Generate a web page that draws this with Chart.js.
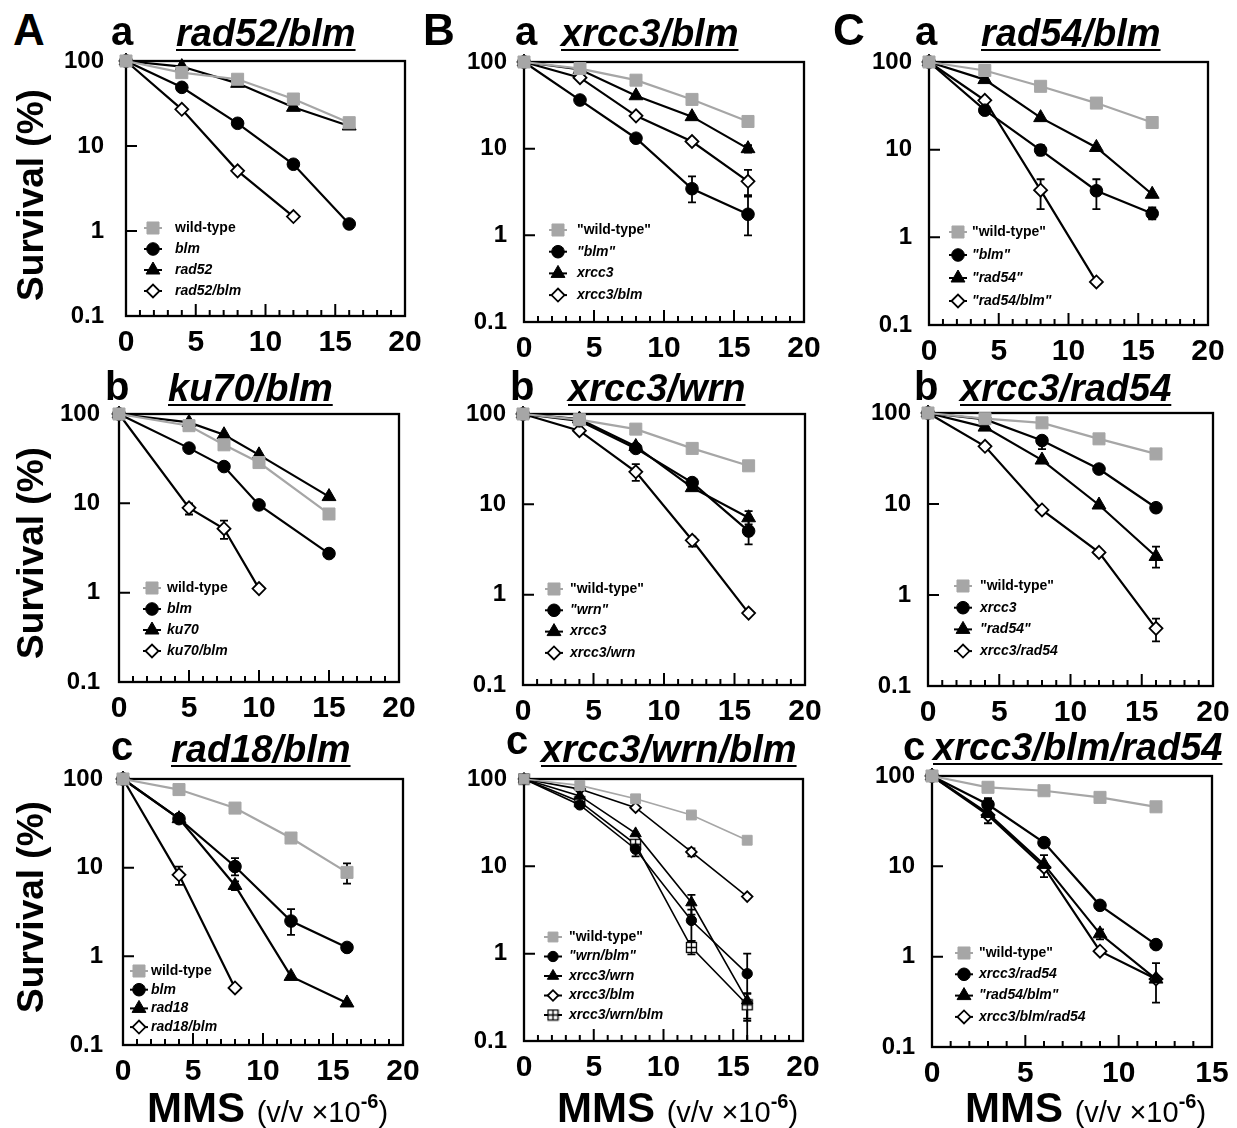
<!DOCTYPE html>
<html>
<head>
<meta charset="utf-8">
<script src="https://cdn.jsdelivr.net/npm/chart.js@4.4.0/dist/chart.umd.min.js"></script>
<style>
  body { margin: 0; background: #fff; }
  #fig { position: relative; width: 1237px; height: 1128px; overflow: hidden; background: #fff;
         font-family: "Liberation Sans", Arial, Helvetica, sans-serif; color: #000; }
  .t { position: absolute; white-space: nowrap; line-height: 1; font-weight: bold; }
  .ttl { font-style: italic; text-decoration: underline; text-decoration-thickness: 2px; text-underline-offset: 3px; }
  canvas { position: absolute; }
</style>
</head>
<body>
<div id="fig"></div>
<script>
const FONT = '"Liberation Sans", Arial, Helvetica, sans-serif';
const BLACK = '#000';
const GRAY = '#a6a6a6';

// axes
const yTicks = [0.1, 1, 10, 100];
const yTickLabels = ['0.1', '1', '10', '100'];
const xTicks20 = [0, 5, 10, 15, 20];
const xTicks15 = [0, 5, 10, 15];

// --- A a : rad52/blm ---
const dosesAa = [0, 4, 8, 12, 16];
const wtAa = [100, 73, 61, 35.7, 18.8];
const blmAa = [100, 49, 18.5, 6.1, 1.21];
const rad52Aa = [100, 86, 54.6, 28.5, 17.2];
const rad52blmAa = [100, 27, 5.1, 1.48];

// --- B a : xrcc3/blm ---
const dosesBa = [0, 4, 8, 12, 16];
const wtBa = [100, 84, 61.7, 37, 20.6];
const blmBa = [100, 36.4, 13.2, 3.45, 1.75];
const blmBaErr = [null, null, null, [2.4, 4.8], [1.0, 2.8]];
const xrcc3Ba = [100, 82, 40.8, 23.4, 10];
const xrcc3BaErr = [null, null, null, null, [9, 11]];
const xrcc3blmBa = [100, 66, 23.9, 12.1, 4.2];
const xrcc3blmBaErr = [null, null, null, null, [2.9, 5.7]];

// --- C a : rad54/blm ---
const dosesCa = [0, 4, 8, 12, 16];
const wtCa = [100, 80, 52.8, 34, 20.4];
const blmCa = [100, 28.2, 9.9, 3.4, 1.87];
const blmCaErr = [null, null, [8.6, 11.3], [2.1, 4.6], [1.6, 2.2]];
const rad54Ca = [100, 63, 23.2, 10.6, 3.1];
const rad54blmCa = [100, 36.6, 3.45, 0.31];
const rad54blmCaErr = [null, null, [2.1, 4.6], null];

// --- A b : ku70/blm ---
const dosesAb = [0, 5, 7.5, 10, 15];
const wtAb = [100, 74, 45.2, 28.6, 7.6];
const blmAb = [100, 41.5, 25.8, 9.6, 2.74];
const ku70Ab = [100, 80.5, 58.6, 34.9, 11.9];
const ku70blmAb = [100, 8.9, 5.2, 1.11];
const ku70blmAbErr = [null, [7.5, 10], [4.0, 6.4], null];

// --- B b : xrcc3/wrn ---
const dosesBb = [0, 4, 8, 12, 16];
const wtBb = [100, 86.5, 68, 41.6, 26.7];
const wtBbErr = [null, null, null, [37, 45], null];
const wrnBb = [100, 84, 41.6, 17.4, 5.06];
const wrnBbErr = [null, null, null, null, [3.6, 6.8]];
const xrcc3Bb = [100, 88, 43.7, 15.3, 7.1];
const xrcc3BbErr = [null, null, null, null, [6, 8.4]];
const xrcc3wrnBb = [100, 65.3, 22.9, 4.0, 0.625];
const xrcc3wrnBbErr = [null, null, [18.2, 27.8], [3.4, 4.4], null];

// --- C b : xrcc3/rad54 ---
const dosesCb = [0, 4, 8, 12, 16];
const wtCb = [100, 86.6, 78, 52, 35.5];
const xrcc3Cb = [100, 85, 49.8, 24.2, 9.1];
const xrcc3CbErr = [null, null, [40, 53], null, null];
const rad54Cb = [100, 70, 30.4, 9.75, 2.65];
const rad54CbErr = [null, null, null, null, [2.0, 3.4]];
const xrcc3rad54Cb = [100, 43.1, 8.6, 2.94, 0.43];
const xrcc3rad54CbErr = [null, null, null, null, [0.31, 0.55]];

// --- A c : rad18/blm ---
const dosesAc = [0, 4, 8, 12, 16];
const wtAc = [100, 76, 47, 21.6, 8.85];
const wtAcErr = [null, null, null, null, [6.6, 11.2]];
const blmAc = [100, 35.7, 10.3, 2.5, 1.26];
const blmAcErr = [null, null, [8.2, 12.8], [1.75, 3.4], null];
const rad18Ac = [100, 35.7, 6.3, 0.594, 0.298];
const rad18AcErr = [null, null, [5.6, 7], null, null];
const rad18blmAc = [100, 8.3, 0.44];
const rad18blmAcErr = [null, [6.4, 10.3], null];

// --- B c : xrcc3/wrn/blm ---
const dosesBc = [0, 4, 8, 12, 16];
const wtBc = [100, 84.5, 59.3, 38.7, 19.9];
const wrnblmBc = [100, 50.5, 15.7, 2.4, 0.59];
const wrnblmBcErr = [null, null, [13, 19.6], [1.4, 3.2], [0.18, 1.0]];
const xrcc3wrnBc = [100, 64, 23.8, 3.85, 0.29];
const xrcc3wrnBcErr = [null, null, null, [2.8, 4.7], [0.17, 0.35]];
const xrcc3blmBc = [100, 76.6, 47, 14.6, 4.5];
const xrcc3blmBcErr = [null, null, null, [13, 16], null];
const tripleBc = [100, 55, 17.9, 1.18, 0.26];
const tripleBcErr = [null, null, null, [0.98, 1.4], [0.1, 0.35]];

// --- C c : xrcc3/blm/rad54 ---
const dosesCc = [0, 3, 6, 9, 12];
const wtCc = [100, 75, 68.7, 58, 45.6];
const xrcc3rad54Cc = [100, 48.4, 18.3, 3.7, 1.36];
const xrcc3rad54CcErr = [null, [43, 57], null, null, null];
const rad54blmCc = [100, 38.5, 10.5, 1.79, 0.565];
const rad54blmCcErr = [null, null, null, [1.55, 2.0], null];
const tripleCc = [100, 36.9, 9.8, 1.15, 0.565];
const tripleCcErr = [null, [30, 45], [7.6, 13.3], null, [0.31, 0.85]];

// panel layout: plot box [left, top, right, bottom], legend [markerX, firstY, rowStep, textX]
const panels = [
  { box: [126, 61, 405, 316], xMax: 20, xTicks: xTicks20, doses: dosesAa, ypad: 22, legend: [153, 228, 21, 175],
    series: [['wild-type', 'wt', wtAa], ['blm', 'circle', blmAa], ['rad52', 'tri', rad52Aa], ['rad52/blm', 'diamond', rad52blmAa]] },
  { box: [524, 62, 804, 322], xMax: 20, xTicks: xTicks20, doses: dosesBa, ypad: 17, legend: [558, 230, 21.7, 577],
    series: [['"wild-type"', 'wt', wtBa], ['"blm"', 'circle', blmBa, blmBaErr], ['xrcc3', 'tri', xrcc3Ba, xrcc3BaErr], ['xrcc3/blm', 'diamond', xrcc3blmBa, xrcc3blmBaErr]] },
  { box: [929, 62, 1208, 325], xMax: 20, xTicks: xTicks20, doses: dosesCa, ypad: 17, legend: [958, 232, 23, 972],
    series: [['"wild-type"', 'wt', wtCa], ['"blm"', 'circle', blmCa, blmCaErr], ['"rad54"', 'tri', rad54Ca], ['"rad54/blm"', 'diamond', rad54blmCa, rad54blmCaErr]] },
  { box: [119, 414, 399, 682], xMax: 20, xTicks: xTicks20, doses: dosesAb, ypad: 19, legend: [152, 588, 21, 167],
    series: [['wild-type', 'wt', wtAb], ['blm', 'circle', blmAb], ['ku70', 'tri', ku70Ab], ['ku70/blm', 'diamond', ku70blmAb, ku70blmAbErr]] },
  { box: [523, 414, 805, 685], xMax: 20, xTicks: xTicks20, doses: dosesBb, ypad: 17, legend: [554, 589, 21.3, 570],
    series: [['"wild-type"', 'wt', wtBb, wtBbErr], ['"wrn"', 'circle', wrnBb, wrnBbErr], ['xrcc3', 'tri', xrcc3Bb, xrcc3BbErr], ['xrcc3/wrn', 'diamond', xrcc3wrnBb, xrcc3wrnBbErr]] },
  { box: [928, 413, 1213, 686], xMax: 20, xTicks: xTicks20, doses: dosesCb, ypad: 17, legend: [963, 586, 21.7, 980],
    series: [['"wild-type"', 'wt', wtCb], ['xrcc3', 'circle', xrcc3Cb, xrcc3CbErr], ['"rad54"', 'tri', rad54Cb, rad54CbErr], ['xrcc3/rad54', 'diamond', xrcc3rad54Cb, xrcc3rad54CbErr]] },
  { box: [123, 779, 403, 1045], xMax: 20, xTicks: xTicks20, doses: dosesAc, ypad: 20, legend: [139, 971, 18.7, 151],
    series: [['wild-type', 'wt', wtAc, wtAcErr], ['blm', 'circle', blmAc, blmAcErr], ['rad18', 'tri', rad18Ac, rad18AcErr], ['rad18/blm', 'diamond', rad18blmAc, rad18blmAcErr]] },
  { box: [524, 779, 803, 1041], xMax: 20, xTicks: xTicks20, doses: dosesBc, ypad: 17, legend: [553, 937, 19.5, 569], small: true,
    series: [['"wild-type"', 'wt', wtBc], ['"wrn/blm"', 'circle', wrnblmBc, wrnblmBcErr], ['xrcc3/wrn', 'tri', xrcc3wrnBc, xrcc3wrnBcErr],
             ['xrcc3/blm', 'diamond', xrcc3blmBc, xrcc3blmBcErr], ['xrcc3/wrn/blm', 'boxplus', tripleBc, tripleBcErr]] },
  { box: [932, 776, 1212, 1047], xMax: 15, xTicks: xTicks15, doses: dosesCc, ypad: 17, legend: [964, 953, 21.3, 979],
    series: [['"wild-type"', 'wt', wtCc], ['xrcc3/rad54', 'circle', xrcc3rad54Cc, xrcc3rad54CcErr], ['"rad54/blm"', 'tri', rad54blmCc, rad54blmCcErr],
             ['xrcc3/blm/rad54', 'diamond', tripleCc, tripleCcErr]] }
];

// square-with-plus marker
const boxPlus = document.createElement('canvas');
boxPlus.width = 13; boxPlus.height = 13;
(function () {
  const c = boxPlus.getContext('2d');
  c.fillStyle = '#fff'; c.fillRect(1, 1, 11, 11);
  c.strokeStyle = BLACK; c.lineWidth = 1.3;
  c.strokeRect(1.5, 1.5, 10, 10);
  c.beginPath(); c.moveTo(6.5, 1.5); c.lineTo(6.5, 11.5); c.moveTo(1.5, 6.5); c.lineTo(11.5, 6.5); c.stroke();
})();

function marker(kind, small) {
  const k = small ? 0.82 : 1;
  if (kind === 'wt') return { style: 'rect', r: 8.5 * k, bg: GRAY, fg: GRAY, bw: 1 };
  if (kind === 'circle') return { style: 'circle', r: 6.3 * k, bg: BLACK, fg: BLACK, bw: 1 };
  if (kind === 'tri') return { style: 'triangle', r: 8 * k, bg: BLACK, fg: BLACK, bw: 1 };
  if (kind === 'diamond') return { style: 'rectRot', r: 6.5 * k, bg: '#fff', fg: BLACK, bw: 1.8 };
  return { style: boxPlus, r: 6, bg: '#fff', fg: BLACK, bw: 0 };
}

// canvas margins around each plot box (top margin > tick label overhang + padding)
const PT = 42, PR = 26, YW = 80, XH = 48;

const figPlugin = {
  id: 'fig',
  beforeDatasetsDraw(chart, args, opts) {
    const { ctx, chartArea: a, scales: { x, y } } = chart;
    ctx.save();
    ctx.strokeStyle = BLACK;
    // frame
    ctx.lineWidth = 2.3;
    ctx.strokeRect(a.left, a.top, a.width, a.height);
    // inward ticks
    ctx.lineWidth = 2;
    ctx.beginPath();
    [1, 10].forEach(v => {
      const py = y.getPixelForValue(v);
      ctx.moveTo(a.left, py); ctx.lineTo(a.left + 11, py);
    });
    for (let v = 1; v < opts.xMax; v++) {
      const px = x.getPixelForValue(v);
      const len = v % 5 === 0 ? 12 : 6;
      ctx.moveTo(px, a.bottom); ctx.lineTo(px, a.bottom - len);
    }
    ctx.stroke();
    // error bars
    ctx.lineWidth = 1.8;
    chart.data.datasets.forEach(ds => {
      if (!ds.err) return;
      ds.err.forEach((e, i) => {
        if (!e) return;
        const px = x.getPixelForValue(ds.data[i].x);
        const lo = y.getPixelForValue(e[0]);
        const hi = y.getPixelForValue(e[1]);
        ctx.beginPath();
        ctx.moveTo(px, lo); ctx.lineTo(px, hi);
        ctx.moveTo(px - 4, lo); ctx.lineTo(px + 4, lo);
        ctx.moveTo(px - 4, hi); ctx.lineTo(px + 4, hi);
        ctx.stroke();
      });
    });
    ctx.restore();
  },
  afterDraw(chart, args, opts) {
    const { ctx } = chart;
    const [mx, my, dy, tx] = opts.legend;
    const ox = opts.box[0] - YW, oy = opts.box[1] - PT;
    ctx.save();
    chart.data.datasets.forEach((ds, i) => {
      const cy = my + i * dy - oy;
      const cx = mx - ox;
      ctx.strokeStyle = ds.borderColor;
      ctx.lineWidth = 2;
      ctx.beginPath(); ctx.moveTo(cx - 9, cy); ctx.lineTo(cx + 9, cy); ctx.stroke();
      ctx.fillStyle = ds.pointBackgroundColor;
      ctx.strokeStyle = ds.pointBorderColor;
      ctx.lineWidth = ds.pointBorderWidth;
      Chart.helpers.drawPoint(ctx, { pointStyle: ds.pointStyle, radius: ds.pointRadius, rotation: 0, borderWidth: ds.pointBorderWidth }, cx, cy);
      const italic = ds.label.indexOf('wild-type') < 0;
      ctx.font = (italic ? 'italic ' : '') + 'bold 14px ' + FONT;
      ctx.fillStyle = BLACK;
      ctx.textBaseline = 'middle';
      ctx.textAlign = 'left';
      ctx.fillText(ds.label, tx - ox, cy);
    });
    ctx.restore();
  }
};

const fig = document.getElementById('fig');

panels.forEach(p => {
  const [l, t, r, b] = p.box;
  const cv = document.createElement('canvas');
  const w = (r - l) + YW + PR, h = (b - t) + PT + XH;
  cv.width = w; cv.height = h;
  cv.style.left = (l - YW) + 'px';
  cv.style.top = (t - PT) + 'px';
  cv.style.width = w + 'px'; cv.style.height = h + 'px';
  fig.appendChild(cv);

  const datasets = p.series.map(([label, kind, vals, err]) => {
    const m = marker(kind, p.small);
    return {
      label,
      data: vals.map((v, i) => ({ x: p.doses[i], y: v })),
      err: err || null,
      borderColor: m.fg,
      backgroundColor: m.bg,
      borderWidth: p.small ? 1.6 : 2.2,
      pointStyle: m.style,
      pointRadius: m.r,
      pointBackgroundColor: m.bg,
      pointBorderColor: m.fg,
      pointBorderWidth: m.bw,
      tension: 0,
      fill: false,
      clip: false
    };
  });

  new Chart(cv, {
    type: 'line',
    data: { datasets },
    options: {
      responsive: false,
      animation: false,
      devicePixelRatio: 1,
      layout: { padding: { top: PT, right: PR, left: 0, bottom: 0 } },
      plugins: { legend: { display: false }, tooltip: { enabled: false }, fig: p },
      scales: {
        x: {
          type: 'linear', min: 0, max: p.xMax,
          grid: { display: false, drawTicks: false }, border: { display: false },
          afterBuildTicks: s => { s.ticks = p.xTicks.map(v => ({ value: v })); },
          afterFit: s => { s.height = XH; },
          ticks: { color: BLACK, padding: 9, autoSkip: false, maxRotation: 0,
                   font: { family: FONT, size: 30, weight: 'bold' }, callback: (v, i) => String(p.xTicks[i]) }
        },
        y: {
          type: 'logarithmic', min: 0.1, max: 100,
          grid: { display: false, drawTicks: false }, border: { display: false },
          afterBuildTicks: s => { s.ticks = yTicks.map(v => ({ value: v })); },
          afterFit: s => { s.width = YW; },
          ticks: { color: BLACK, padding: p.ypad, autoSkip: false,
                   font: { family: FONT, size: 24, weight: 'bold' }, callback: (v, i) => yTickLabels[i] }
        }
      }
    },
    plugins: [figPlugin]
  });
});

// text overlays
function addText(html, left, base, size, cls) {
  const d = document.createElement('div');
  d.className = 't' + (cls ? ' ' + cls : '');
  d.innerHTML = html;
  d.style.fontSize = size + 'px';
  d.style.left = left + 'px';
  d.style.top = (base - 0.8465 * size) + 'px';
  fig.appendChild(d);
}

[['A', 13, 45], ['B', 423, 45], ['C', 833, 45]].forEach(([s, x, yb]) => addText(s, x, yb, 44));
[['a', 111, 45], ['a', 515, 45], ['a', 915, 45],
 ['b', 105, 400], ['b', 510, 400], ['b', 914, 400],
 ['c', 111, 760], ['c', 506, 754], ['c', 903, 760]].forEach(([s, x, yb]) => addText(s, x, yb, 40));
[['rad52/blm', 176, 46], ['xrcc3/blm', 561, 46], ['rad54/blm', 981, 46],
 ['ku70/blm', 168, 401], ['xrcc3/wrn', 568, 401], ['xrcc3/rad54', 960, 401],
 ['rad18/blm', 171, 762], ['xrcc3/wrn/blm', 541, 762], ['xrcc3/blm/rad54', 933, 760]].forEach(([s, x, yb]) => addText(s, x, yb, 38, 'ttl'));

[195, 553, 907].forEach(cy => {
  const d = document.createElement('div');
  d.className = 't';
  d.textContent = 'Survival (%)';
  d.style.fontSize = '37px';
  d.style.left = '30px';
  d.style.top = cy + 'px';
  d.style.transform = 'translate(-50%, -50%) rotate(-90deg)';
  fig.appendChild(d);
});

const mmsHtml = 'MMS <span style="font-size:29px;font-weight:normal">(v/v \u00d710<span style="font-size:20px;font-weight:bold;position:relative;top:-14px">-6</span>)</span>';
[147, 557, 965].forEach(x => addText(mmsHtml, x, 1123, 42));
</script>
</body>
</html>
